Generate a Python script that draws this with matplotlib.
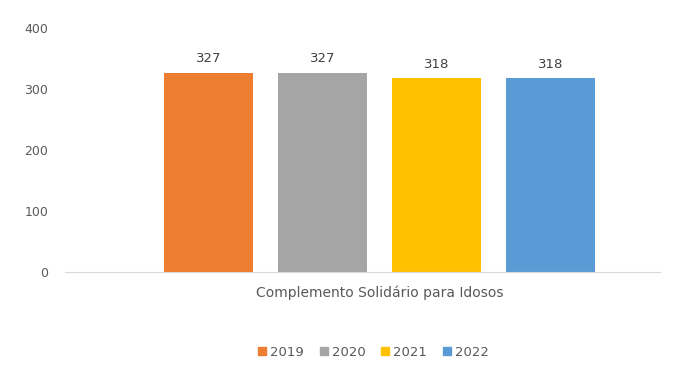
import numpy as np
import matplotlib.pyplot as plt

category = "Complemento Solidário para Idosos"
years = ["2019", "2020", "2021", "2022"]
values = [327, 327, 318, 318]
colors = ["#ED7D31", "#A5A5A5", "#FFC000", "#5B9BD5"]

fig = plt.figure(figsize=(6.83, 3.65), dpi=100)
ax = fig.add_axes([0.095, 0.255, 0.871, 0.668])

x = np.arange(len(values))
bars = ax.bar(x, values, width=0.78, color=colors, label=years)
for b, v in zip(bars, values):
    ax.text(b.get_x() + b.get_width() / 2, v + 12, str(v), ha="center", va="bottom",
            fontsize=9.5, color="#404040")

ax.set_xlim(-1.26, 3.96)
ax.set_ylim(0, 400)
ax.set_yticks([0, 100, 200, 300, 400])
ax.set_xticks([1.5])
ax.set_xticklabels([category])
ax.tick_params(axis="both", length=0, labelsize=9, colors="#595959")
ax.tick_params(axis="y", pad=12)
ax.tick_params(axis="x", pad=10, labelsize=10)
for s in ["top", "right", "left"]:
    ax.spines[s].set_visible(False)
ax.spines["bottom"].set_color("#D9D9D9")

handles = [plt.Rectangle((0, 0), 1, 1, color=c) for c in colors]
fig.legend(handles, years, loc="center", bbox_to_anchor=(0.547, 0.035), ncol=4,
           frameon=False, fontsize=9.5, handlelength=0.6, handleheight=0.6,
           columnspacing=1.2, handletextpad=0.3, labelcolor="#595959")

fig.savefig("out.png", dpi=100)
